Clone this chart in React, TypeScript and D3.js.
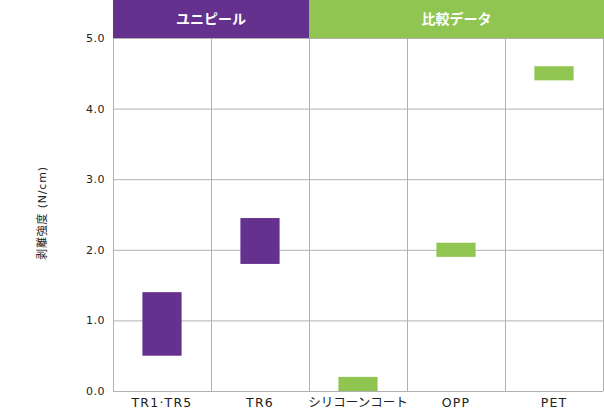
import React, { useRef, useEffect } from 'react';
import * as d3 from 'd3';

const categories = ['TR1·TR5', 'TR6', 'シリコーンコート', 'OPP', 'PET'];
const lowValues = [0.5, 1.8, 0, 1.9, 4.4];
const highValues = [1.4, 2.45, 0.2, 2.1, 4.6];
const groupOf = ['uni', 'uni', 'cmp', 'cmp', 'cmp'];
const groupNames = ['ユニピール', '比較データ'];
const yTicks = [0, 1, 2, 3, 4, 5];

const PURPLE = '#65318e';
const GREEN = '#8fc550';
const GRID = '#b0b0b0';
const FONT = '"DejaVu Sans", "Noto Sans CJK JP", sans-serif';
const JP_FONT = '"Noto Sans CJK JP", "Noto Sans", sans-serif';

const App = () => {
  const ref = useRef<SVGSVGElement | null>(null);
  const width = 604;
  const height = 410;
  const margin = { top: 38, right: 1, bottom: 19, left: 113 };

  useEffect(() => {
    if (!ref.current) return;
    const svg = d3.select(ref.current);
    svg.selectAll('*').remove();

    const x = d3
      .scaleBand()
      .domain(categories)
      .range([margin.left, width - margin.right])
      .paddingInner(0)
      .paddingOuter(0);

    const y = d3
      .scaleLinear()
      .domain([0, 5])
      .range([height - margin.bottom, margin.top]);

    const bw = x.bandwidth();

    // header bands
    const uniCats = categories.filter((_, i) => groupOf[i] === 'uni');
    const cmpCats = categories.filter((_, i) => groupOf[i] === 'cmp');
    const headers = [
      { name: groupNames[0], x0: x(uniCats[0]) ?? 0, x1: (x(uniCats[uniCats.length - 1]) ?? 0) + bw, color: PURPLE },
      { name: groupNames[1], x0: x(cmpCats[0]) ?? 0, x1: (x(cmpCats[cmpCats.length - 1]) ?? 0) + bw + margin.right, color: GREEN },
    ];
    const hdr = svg.append('g');
    hdr
      .selectAll('rect')
      .data(headers)
      .join('rect')
      .attr('x', (d) => d.x0)
      .attr('y', 0)
      .attr('width', (d) => d.x1 - d.x0)
      .attr('height', margin.top)
      .attr('fill', (d) => d.color);
    hdr
      .selectAll('text')
      .data(headers)
      .join('text')
      .attr('x', (d) => (d.x0 + d.x1) / 2)
      .attr('y', margin.top / 2)
      .attr('dy', '0.35em')
      .attr('text-anchor', 'middle')
      .attr('fill', '#fff')
      .attr('font-size', 14)
      .attr('font-weight', 'bold')
      .attr('font-family', JP_FONT)
      .text((d) => d.name);

    // horizontal grid + y labels
    const yAxis = d3
      .axisLeft(y)
      .tickValues(yTicks)
      .tickSize(-(width - margin.left - margin.right))
      .tickPadding(8)
      .tickFormat(d3.format('.1f'));
    svg
      .append('g')
      .attr('transform', `translate(${margin.left},0)`)
      .call(yAxis)
      .call((g) => g.select('.domain').remove())
      .call((g) => g.selectAll('.tick line').attr('stroke', GRID))
      .call((g) =>
        g
          .selectAll('.tick text')
          .attr('font-size', 11)
          .attr('letter-spacing', 0.5)
          .attr('font-family', FONT)
          .attr('fill', '#222'),
      );

    // vertical grid lines at band edges
    const edges = categories.map((c) => x(c) ?? 0).concat([width - margin.right - 0.5]);
    svg
      .append('g')
      .selectAll('line')
      .data(edges)
      .join('line')
      .attr('x1', (d) => Math.round(d) + 0.5)
      .attr('x2', (d) => Math.round(d) + 0.5)
      .attr('y1', margin.top)
      .attr('y2', height - margin.bottom)
      .attr('stroke', GRID);

    // range bars
    svg
      .append('g')
      .selectAll('rect')
      .data(categories)
      .join('rect')
      .attr('x', (d) => (x(d) ?? 0) + bw * 0.3)
      .attr('width', bw * 0.4)
      .attr('y', (_, i) => y(highValues[i]))
      .attr('height', (_, i) => y(lowValues[i]) - y(highValues[i]))
      .attr('fill', (_, i) => (groupOf[i] === 'uni' ? PURPLE : GREEN));

    // x labels
    svg
      .append('g')
      .selectAll('text')
      .data(categories)
      .join('text')
      .attr('x', (d) => (x(d) ?? 0) + bw / 2)
      .attr('y', height - 3)
      .attr('text-anchor', 'middle')
      .attr('font-size', 12.5)
      .attr('letter-spacing', (d) => (/[\u3000-\u9fff]/.test(d) ? 0 : 1.2))
      .attr('font-family', FONT)
      .attr('fill', '#222')
      .text((d) => d);

    // y title
    svg
      .append('text')
      .attr('transform', 'translate(42,213) rotate(-90)')
      .attr('text-anchor', 'middle')
      .attr('dy', '0.35em')
      .attr('font-size', 11)
      .attr('letter-spacing', 0.8)
      .attr('font-family', FONT)
      .attr('fill', '#222')
      .text('剥離強度 (N/cm)');
  }, []);

  return (
    <svg
      ref={ref}
      width={width}
      height={height}
      style={{ position: 'absolute', left: 0, top: 0, background: '#fff' }}
    />
  );
};

export default App;
